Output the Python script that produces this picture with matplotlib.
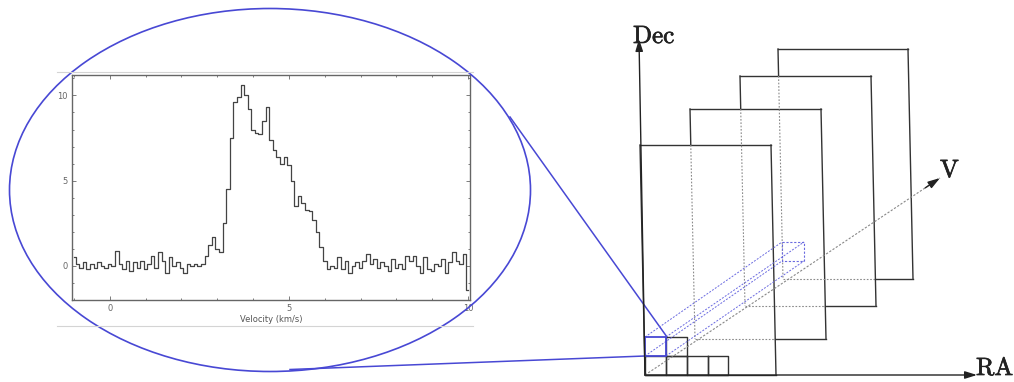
import numpy as np
import matplotlib.pyplot as plt
import matplotlib.patheffects as pe
from matplotlib.patches import Ellipse


# Spectrum (channel centres in km/s, intensity)
velocity = np.round(np.arange(-1.0, 10.01, 0.1), 2)
intensity = [
    0.5, 0.1, -0.1, 0.2, -0.2, 0.1, -0.1, 0.2, 0.0, -0.1,
    0.1, 0.0, 0.9, 0.1, -0.2, 0.3, -0.3, 0.2, -0.1, 0.3,
    -0.2, 0.1, 0.6, -0.1, 0.8, 0.3, -0.4, 0.5, 0.0, 0.2,
    -0.1, -0.4, 0.1, 0.0, 0.1, 0.0, 0.1, 0.6, 1.2, 1.7,
    1.0, 0.8, 2.5, 4.5, 7.5, 9.6, 9.9, 10.6, 10.0, 9.2,
    8.0, 7.8, 7.75, 8.5, 9.3, 7.4, 6.8, 6.4, 6.0, 6.4,
    5.9, 5.0, 3.5, 4.1, 3.7, 3.3, 3.2, 2.7, 2.0, 1.1,
    0.3, -0.2, 0.0, -0.1, 0.5, -0.2, 0.3, -0.4, 0.0, 0.2,
    -0.1, 0.3, 0.7, 0.1, 0.4, -0.1, 0.2, 0.0, -0.3, 0.4,
    -0.1, 0.1, -0.2, 0.6, 0.3, 0.6, 0.0, -0.4, 0.5, -0.2,
    -0.3, 0.1, 0.0, 0.4, -0.4, 0.2, 0.8, 0.3, 0.1, 0.7,
    -1.4,
]

# Cube sketch (figure pixel units, y down)
origin = (645, 375)
dec_tip = (639, 39)
ra_tip = (977, 375)
v_tip = (940, 178)

plane_left = [645, 695, 745, 783]
plane_bottom = [375, 339, 306, 279]
plane_width = [131, 131, 131, 130]
plane_height = 230
plane_skew = 5

# small pixel cells: (x0, y0, x1, y1)
cells = [
    (645, 356, 666, 375), (666, 356, 687, 375),
    (687, 356, 708, 375), (708, 356, 728, 375),
    (666, 337, 687, 356),
]
near_box = (645, 337, 666, 356)
far_box = (782, 242, 804, 261)

# zoom ellipse and its connector lines
ell_center = (270, 190)
ell_size = (521, 363)
upper_link = [(510, 117), (667, 337)]
lower_link = [(290, 369.5), (645, 356)]

BLUE = "#4848d4"
DARK = "#333333"


fig = plt.figure(figsize=(10.14, 3.82), dpi=100)

# ---- spectrum inset ----
W, H = 1014, 382
sp = fig.add_axes([72 / W, (H - 300) / H, (470 - 72) / W, (300 - 75) / H])
sp.set_zorder(1)
sp.step(velocity, intensity, where="mid", color="#444444", lw=0.9)
sp.set_xlim(-1.05, 10.05)
sp.set_ylim(-2.0, 11.2)
sp.set_xticks([0, 5, 10])
sp.set_yticks([0, 5, 10])
sp.set_xticks(range(-1, 11), minor=True)
sp.set_yticks(range(-2, 12), minor=True)
sp.tick_params(which="both", direction="in", top=True, right=True,
               colors="#666666", labelsize=6, width=0.6)
sp.tick_params(which="major", length=3)
sp.tick_params(which="minor", length=1.5)
sp.tick_params(axis="x", pad=3)
sp.tick_params(axis="y", pad=3)
sp.set_xlabel("Velocity (km/s)", fontsize=6, color="#555555", labelpad=1)
for s in sp.spines.values():
    s.set_color("#666666")
    s.set_linewidth(1.0)

# ---- overlay drawing ----
ax = fig.add_axes([0, 0, 1, 1])
ax.set_zorder(2)
ax.patch.set_alpha(0)
ax.set_xlim(0, W)
ax.set_ylim(H, 0)
ax.axis("off")

# border lines of the embedded image
ax.plot([57, 473], [72, 72], color="#d4d4d4", lw=0.8)
ax.plot([57, 473], [326, 326], color="#d4d4d4", lw=0.8)

ax.add_patch(Ellipse(ell_center, ell_size[0], ell_size[1], fill=False,
                     edgecolor=BLUE, lw=1.2))
ax.plot(*zip(*upper_link), color=BLUE, lw=1.1)
ax.plot(*zip(*lower_link), color=BLUE, lw=1.1)


def edge_x(xb, y, yb):
    # x of a slanted vertical edge at height y (bottom at xb, yb)
    return xb - plane_skew * (yb - y) / plane_height


dotted = dict(color="#8a8a8a", lw=0.8, ls=(0, (1.5, 1.5)))
solid = dict(color=DARK, lw=1.0)

for i in range(len(plane_left)):
    L, B, Wd = plane_left[i], plane_bottom[i], plane_width[i]
    T = B - plane_height
    R = L + Wd
    tl = (edge_x(L, T, B), T)
    tr = (edge_x(R, T, B), T)
    ax.plot([tl[0], tr[0]], [T, T], **solid)
    ax.plot([tr[0], R], [T, B], **solid)
    if i == 0:
        ax.plot([tl[0], L], [T, B], **solid)
        ax.plot([L, R], [B, B], **solid)
        continue
    pT = plane_bottom[i - 1] - plane_height
    pR = edge_x(plane_left[i - 1] + plane_width[i - 1], B, plane_bottom[i - 1])
    mx = edge_x(L, pT, B)
    ax.plot([tl[0], mx], [T, pT], **solid)
    ax.plot([mx, L], [pT, B], **dotted)
    ax.plot([L, pR], [B, B], **dotted)
    ax.plot([pR, R], [B, B], **solid)

# pixel cells
for x0, y0, x1, y1 in cells:
    ax.plot([x0, x1, x1, x0, x0], [y0, y0, y1, y1, y0], color=DARK, lw=1.0)

# line of sight prism
nx0, ny0, nx1, ny1 = near_box
fx0, fy0, fx1, fy1 = far_box
ax.plot([fx0, fx1, fx1, fx0, fx0], [fy0, fy0, fy1, fy1, fy0],
        color="#6a6ae0", lw=0.8, ls=(0, (2, 1.5)))
for (a, b), (c, d) in [((nx0, ny0), (fx0, fy0)), ((nx1, ny0), (fx1, fy0)),
                       ((nx1, ny1), (fx1, fy1)), ((nx0, ny1), (fx0, fy1))]:
    ax.plot([a, c], [b, d], color="#6a6ae0", lw=0.7, ls=(0, (2, 1.5)))
ax.plot([nx0, nx1, nx1, nx0, nx0], [ny0, ny0, ny1, ny1, ny0],
        color=BLUE, lw=1.3)

# axes arrows
head = dict(arrowstyle="-|>,head_length=0.8,head_width=0.25",
            mutation_scale=9, color="#222222", lw=1.0,
            shrinkA=0, shrinkB=0)
ax.annotate("", xy=dec_tip, xytext=origin, arrowprops=head)
ax.annotate("", xy=ra_tip, xytext=origin, arrowprops=head)
ax.plot([origin[0], v_tip[0]], [origin[1], v_tip[1]],
        color="#888888", lw=0.8, ls=(0, (2, 1.5)))
vdx, vdy = v_tip[0] - origin[0], v_tip[1] - origin[1]
ax.annotate("", xy=v_tip, xytext=(v_tip[0] - 0.05 * vdx, v_tip[1] - 0.05 * vdy),
            arrowprops=head)

bold = [pe.withStroke(linewidth=0.5, foreground="#222222")]
ax.text(633, 43, "Dec", family="cmr10", fontsize=18, ha="left",
        va="baseline", color="#222222", path_effects=bold)
ax.text(976, 375, "RA", family="cmr10", fontsize=18, ha="left",
        va="baseline", color="#222222", path_effects=bold)
ax.text(940, 177, "V", family="cmr10", fontsize=18, ha="left",
        va="baseline", color="#222222", path_effects=bold)

fig.savefig("out.png", dpi=100)
